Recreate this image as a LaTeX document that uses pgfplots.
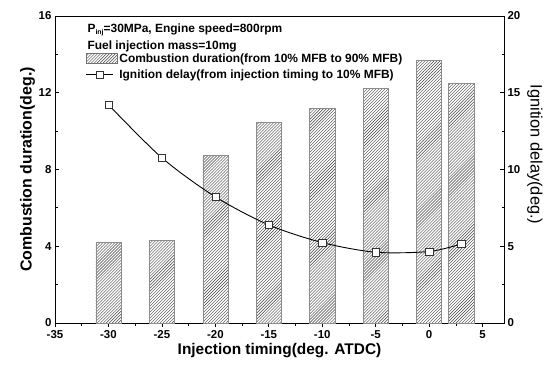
\documentclass[border=0pt]{standalone}
\usepackage{fontspec}
\setmainfont{Liberation Sans}
\usepackage{pgfplots}
\pgfplotsset{compat=1.18}
\usetikzlibrary{patterns}
\begin{document}
\begin{tikzpicture}[x=1bp,y=1bp]
\pgfplotsset{
  every axis/.append style={
    scale only axis, width=449bp, height=307bp,
    xmin=-35, xmax=7,
    axis line style={line width=0.9pt},
    tick style={line width=0.8pt, black},
    major tick length=4bp, minor tick length=2.5bp,
    tick align=inside,
    /pgf/number format/assume math mode=true,
    tick label style={font=\bfseries\fontsize{11.5}{12}\selectfont},
  }
}
\begin{axis}[name=ax,
  ymin=0, ymax=16,
  xtick={-35,-30,...,5}, minor x tick num=1,
  ytick={0,4,...,16}, minor y tick num=1,
  xtick pos=bottom, ytick pos=left,
  xlabel={Injection timing(deg. ATDC)},
  ylabel={Combustion duration(deg.)},
  xlabel style={font=\bfseries\fontsize{15.5}{17}\selectfont, yshift=2bp},
  ylabel style={font=\bfseries\fontsize{16}{18}\selectfont, yshift=-3bp},
  ybar, bar width=2.35,
]
\addplot[draw=black!45, pattern=north east lines, pattern color=black!75, line width=0.6pt]
  coordinates {(-30,4.20) (-25,4.30) (-20,8.72) (-15,10.45) (-10,11.18) (-5,12.22) (0,13.70) (3,12.50)};
\end{axis}
\begin{axis}[
  ymin=0, ymax=20,
  axis x line=none, axis y line*=right,
  ytick={0,5,...,20}, minor y tick num=1,
  ytick pos=right,
  ylabel={Ignition delay(deg.)},
  ylabel style={font=\fontsize{16.5}{19}\selectfont, rotate=180, xshift=-15bp},
  legend style={at={(0.068,0.885)}, anchor=north west, draw=none, fill=none,
    font=\bfseries\fontsize{12}{13}\selectfont, row sep=2bp, inner sep=0pt,
    cells={anchor=west}},
]
\addlegendimage{legend image code/.code={\draw[draw=black!55, pattern=north east lines, pattern color=black!75] (0bp,-5bp) rectangle (31bp,5bp);}}
\addlegendentry{Combustion duration(from 10\% MFB to 90\% MFB)}
\addplot[black, line width=0.9pt, smooth, mark=square*, mark options={fill=white, draw=black!80, line width=0.5pt}, mark size=3.6bp,
  legend image code/.code={\draw[black, line width=0.9pt] (0bp,0bp)--(27bp,0bp); \draw[fill=white, draw=black!80, line width=0.5pt] (9.9bp,-3.6bp) rectangle (17.1bp,3.6bp);}]
  coordinates {(-30,14.22) (-25,10.76) (-20,8.22) (-15,6.39) (-10,5.24) (-5,4.61) (0,4.66) (3,5.15)};
\addlegendentry{Ignition delay(from injection timing to 10\% MFB)}
\node[anchor=west, font=\bfseries\fontsize{12}{13}\selectfont, inner sep=0] at (rel axis cs:0.072,0.955) {P\raisebox{-2.5bp}{\fontsize{7}{8}\selectfont inj}=30MPa, Engine speed=800rpm};
\node[anchor=west, font=\bfseries\fontsize{12}{13}\selectfont, inner sep=0] at (rel axis cs:0.072,0.9) {Fuel injection mass=10mg};
\end{axis}
\pgfresetboundingbox
\path ([shift={(-55bp,-43.5bp)}]ax.south west) rectangle ([shift={(47bp,16bp)}]ax.north east);
\end{tikzpicture}
\end{document}
